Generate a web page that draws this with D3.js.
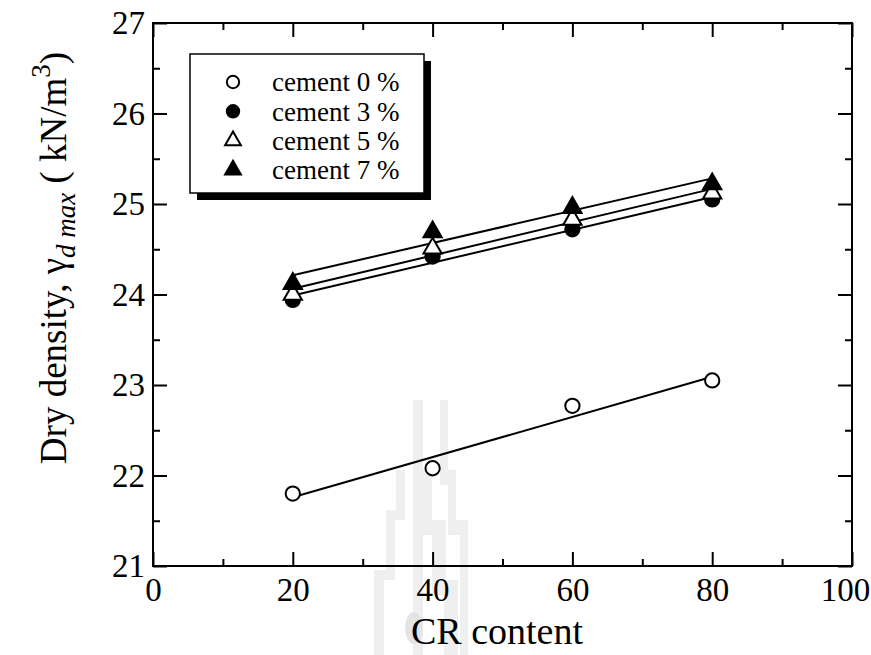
<!DOCTYPE html>
<html lang="en">

<head>
    <meta charset="UTF-8">
    <title>Dry density vs CR content</title>
    <style>
        body { margin: 0; background: #fff; }
        text { font-family: "Liberation Serif", "Times New Roman", serif; }
    </style>
</head>

<body>
    <script src="https://d3js.org/d3.v7.min.js"></script>
    <script>

        const width = 871;
        const height = 655;

        // data
        const crContent = [20, 40, 60, 80];
        const cement0 = [21.80, 22.08, 22.77, 23.05];
        const cement3 = [23.94, 24.42, 24.72, 25.05];
        const cement5 = [24.00, 24.51, 24.83, 25.12];
        const cement7 = [24.12, 24.69, 24.96, 25.22];
        const seriesNames = ["cement 0 %", "cement 3 %", "cement 5 %", "cement 7 %"];

        const xTicks = [0, 20, 40, 60, 80, 100];
        const xMinor = [10, 30, 50, 70, 90];
        const yTicks = [21, 22, 23, 24, 25, 26, 27];
        const yMinor = [21.5, 22.5, 23.5, 24.5, 25.5, 26.5];

        const series = [
            { name: seriesNames[0], values: cement0, shape: d3.symbolCircle, fill: "white" },
            { name: seriesNames[1], values: cement3, shape: d3.symbolCircle, fill: "black" },
            { name: seriesNames[2], values: cement5, shape: d3.symbolTriangle, fill: "white" },
            { name: seriesNames[3], values: cement7, shape: d3.symbolTriangle, fill: "black" }
        ];

        const x = d3.scaleLinear().domain([0, 100]).range([153, 852]);
        const y = d3.scaleLinear().domain([21, 27]).range([566, 23]);

        const svg = d3.select("body").append("svg")
            .attr("width", width)
            .attr("height", height);

        // faint watermark behind the plot
        const wm = svg.append("g").attr("fill", "#efefef");
        wm.append("path").attr("d",
            "M413,400 L423,400 L423,470 L432,470 L432,520 L446,520 L446,580 L458,580 L458,655 L444,655 L444,595 L432,595 L432,535 L423,535 L423,655 L413,655 Z");
        wm.append("path").attr("d",
            "M440,400 L448,400 L448,470 L456,470 L456,520 L468,520 L468,655 L460,655 L460,535 L448,535 L448,485 L440,485 Z");
        wm.append("path").attr("d",
            "M396,470 L405,470 L405,520 L395,520 L395,580 L384,580 L384,655 L374,655 L374,570 L386,570 L386,510 L396,510 Z");
        wm.append("ellipse").attr("cx", 414).attr("cy", 628).attr("rx", 9).attr("ry", 16).attr("fill", "#e4e4e4");

        // axes with inward ticks
        const fmt = d3.format("d");
        const styleAxis = g => {
            g.select(".domain").remove();
            g.selectAll("line").attr("stroke", "black").attr("stroke-width", 2);
            g.selectAll("text").attr("font-size", 33).attr("fill", "black")
                .style("font-family", "'Liberation Serif', 'Times New Roman', serif");
        };

        svg.append("g").attr("transform", `translate(0,${y(21)})`)
            .call(d3.axisBottom(x).tickValues(xTicks).tickSize(-14).tickPadding(12).tickFormat(fmt))
            .call(styleAxis)
            .call(g => g.selectAll(".tick text").filter(d => d === 100).attr("dx", -7));
        svg.append("g").attr("transform", `translate(0,${y(21)})`)
            .call(d3.axisBottom(x).tickValues(xMinor).tickSize(-7).tickFormat(""))
            .call(styleAxis);
        svg.append("g").attr("transform", `translate(0,${y(27)})`)
            .call(d3.axisTop(x).tickValues(xTicks).tickSize(-14).tickFormat(""))
            .call(styleAxis);
        svg.append("g").attr("transform", `translate(0,${y(27)})`)
            .call(d3.axisTop(x).tickValues(xMinor).tickSize(-7).tickFormat(""))
            .call(styleAxis);

        svg.append("g").attr("transform", `translate(${x(0)},0)`)
            .call(d3.axisLeft(y).tickValues(yTicks).tickSize(-14).tickPadding(8).tickFormat(fmt))
            .call(styleAxis);
        svg.append("g").attr("transform", `translate(${x(0)},0)`)
            .call(d3.axisLeft(y).tickValues(yMinor).tickSize(-7).tickFormat(""))
            .call(styleAxis);
        svg.append("g").attr("transform", `translate(${x(100)},0)`)
            .call(d3.axisRight(y).tickValues(yTicks).tickSize(-14).tickFormat(""))
            .call(styleAxis);
        svg.append("g").attr("transform", `translate(${x(100)},0)`)
            .call(d3.axisRight(y).tickValues(yMinor).tickSize(-7).tickFormat(""))
            .call(styleAxis);

        // frame
        svg.append("rect")
            .attr("x", x(0)).attr("y", y(27))
            .attr("width", x(100) - x(0)).attr("height", y(21) - y(27))
            .attr("fill", "none").attr("stroke", "black").attr("stroke-width", 2);

        // least-squares lines from each series
        function fit(xs, ys) {
            const mx = d3.mean(xs), my = d3.mean(ys);
            const b = d3.sum(xs, (v, i) => (v - mx) * (ys[i] - my)) / d3.sum(xs, v => (v - mx) ** 2);
            return v => my + b * (v - mx);
        }

        const xExtent = d3.extent(crContent);
        svg.append("g")
            .selectAll("line")
            .data(series)
            .join("line")
            .attr("x1", x(xExtent[0]))
            .attr("x2", x(xExtent[1]))
            .attr("y1", d => y(fit(crContent, d.values)(xExtent[0])))
            .attr("y2", d => y(fit(crContent, d.values)(xExtent[1])))
            .attr("stroke", "black")
            .attr("stroke-width", 2);

        // markers
        const sym = (shape, size) => d3.symbol().type(shape).size(shape === d3.symbolCircle ? size : size * 0.9)();

        svg.append("g")
            .selectAll("g")
            .data(series)
            .join("g")
            .selectAll("path")
            .data(d => d.values.map((v, i) => ({ cx: crContent[i], cy: v, s: d })))
            .join("path")
            .attr("transform", d => `translate(${x(d.cx)},${y(d.cy)})`)
            .attr("d", d => sym(d.s.shape, 160))
            .attr("fill", d => d.s.fill)
            .attr("stroke", "black")
            .attr("stroke-width", 2);

        // legend
        const legend = svg.append("g");
        legend.append("rect")
            .attr("x", 197).attr("y", 61).attr("width", 234).attr("height", 139)
            .attr("fill", "black");
        legend.append("rect")
            .attr("x", 190).attr("y", 54).attr("width", 234).attr("height", 139)
            .attr("fill", "white").attr("stroke", "black").attr("stroke-width", 1.5);

        const rows = legend.selectAll("g.row")
            .data(series)
            .join("g")
            .attr("class", "row")
            .attr("transform", (d, i) => `translate(0,${82 + i * 29.3})`);
        rows.append("path")
            .attr("transform", "translate(233,0)")
            .attr("d", d => sym(d.shape, 120))
            .attr("fill", d => d.fill)
            .attr("stroke", "black")
            .attr("stroke-width", 2);
        rows.append("text")
            .attr("x", 272)
            .attr("dy", "0.35em")
            .attr("font-size", 27)
            .text(d => d.name);

        // axis titles
        svg.append("text")
            .attr("x", 497)
            .attr("y", 644)
            .attr("text-anchor", "middle")
            .attr("font-size", 38)
            .text("CR content");

        const yl = svg.append("text")
            .attr("transform", "translate(66,258) rotate(-90)")
            .attr("text-anchor", "middle")
            .attr("font-size", 37);
        yl.append("tspan").text("Dry density, γ");
        yl.append("tspan").attr("font-style", "italic").attr("font-size", 27).attr("dy", 9).text("d max");
        yl.append("tspan").attr("dy", -9).text(" ( kN/m");
        yl.append("tspan").attr("font-size", 27).attr("dy", -16).text("3");
        yl.append("tspan").attr("dy", 16).text(")");

    </script>
</body>

</html>
